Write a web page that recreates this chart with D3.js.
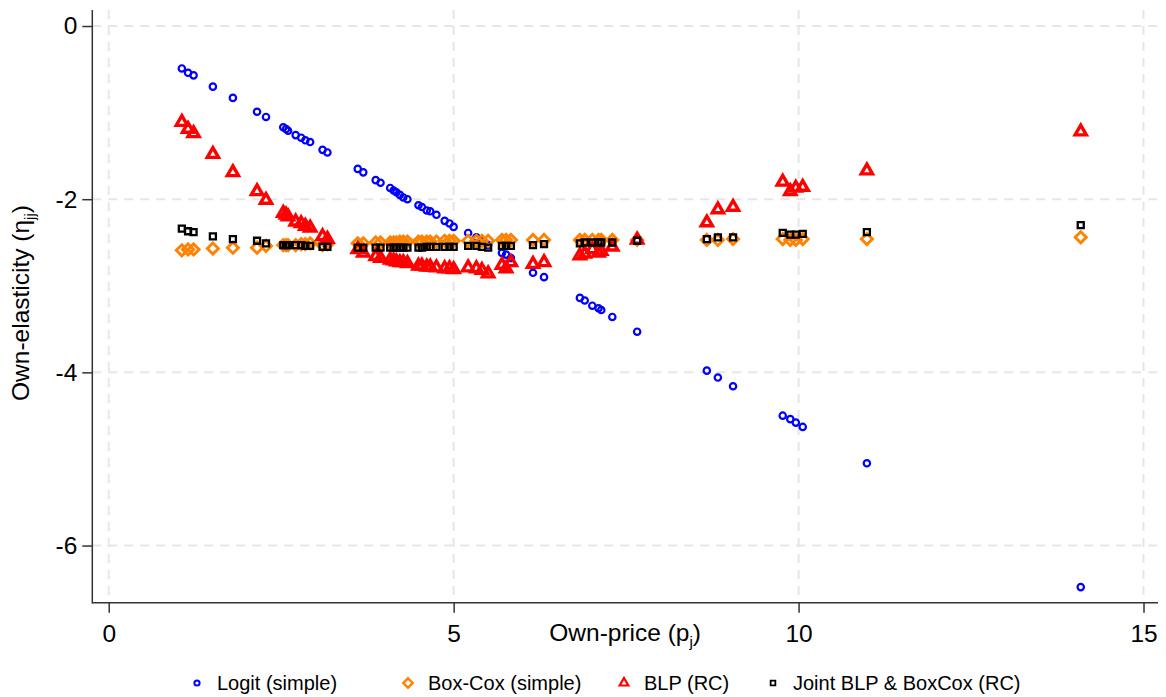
<!DOCTYPE html>
<html>
<head>
<meta charset="utf-8">
<script src="https://d3js.org/d3.v7.min.js"></script>
<style>
  body { margin: 0; background: #fff; }
  svg { display: block; font-family: "Liberation Sans", Arial, sans-serif; }
</style>
</head>
<body>
<svg id="chart" width="1166" height="697"></svg>
<script>
// ── Data: one entry per product ──
const prices = [1.06, 1.15, 1.23, 1.51, 1.80, 2.15, 2.28, 2.53, 2.57, 2.60, 2.71, 2.79, 2.85, 2.92, 3.10, 3.17,
  3.61, 3.69, 3.87, 3.94, 4.08, 4.13, 4.17, 4.22, 4.27, 4.33, 4.49, 4.54, 4.61, 4.66, 4.75, 4.87, 4.94, 5.00,
  5.21, 5.33, 5.41, 5.50, 5.70, 5.76, 5.83, 6.15, 6.31, 6.83, 6.90, 7.01, 7.10, 7.14, 7.30, 7.66,
  8.67, 8.83, 9.05, 9.77, 9.88, 9.96, 10.06, 10.99, 14.09];

const logit = [-0.49, -0.54, -0.57, -0.70, -0.83, -0.99, -1.05, -1.17, -1.19, -1.21, -1.26, -1.29, -1.32, -1.34, -1.43, -1.46,
  -1.65, -1.69, -1.78, -1.81, -1.87, -1.90, -1.92, -1.95, -1.98, -2.00, -2.07, -2.09, -2.13, -2.14, -2.18, -2.25, -2.28, -2.32,
  -2.39, -2.44, -2.48, -2.53, -2.62, -2.64, -2.68, -2.85, -2.90, -3.14, -3.17, -3.23, -3.26, -3.28, -3.36, -3.53,
  -3.98, -4.06, -4.16, -4.50, -4.54, -4.58, -4.63, -5.05, -6.48];

const boxcox = [-2.59, -2.58, -2.58, -2.57, -2.56, -2.56, -2.54, -2.53, -2.53, -2.53, -2.53, -2.52, -2.52, -2.51, -2.53, -2.52,
  -2.51, -2.51, -2.50, -2.50, -2.50, -2.50, -2.50, -2.49, -2.49, -2.49, -2.49, -2.49, -2.49, -2.49, -2.49, -2.48, -2.48, -2.48,
  -2.48, -2.48, -2.48, -2.48, -2.47, -2.47, -2.47, -2.47, -2.47, -2.47, -2.47, -2.47, -2.47, -2.47, -2.47, -2.47,
  -2.47, -2.47, -2.46, -2.46, -2.47, -2.47, -2.46, -2.46, -2.44];

const blp = [-1.11, -1.19, -1.24, -1.48, -1.69, -1.91, -2.01, -2.16, -2.18, -2.20, -2.26, -2.28, -2.31, -2.33, -2.43, -2.46,
  -2.58, -2.62, -2.66, -2.68, -2.70, -2.71, -2.72, -2.73, -2.73, -2.74, -2.77, -2.77, -2.78, -2.78, -2.79, -2.80, -2.80, -2.81,
  -2.79, -2.80, -2.82, -2.86, -2.76, -2.80, -2.73, -2.75, -2.73, -2.65, -2.63, -2.58, -2.62, -2.60, -2.55, -2.47,
  -2.27, -2.12, -2.09, -1.80, -1.91, -1.87, -1.86, -1.67, -1.22];

const joint = [-2.34, -2.37, -2.38, -2.43, -2.46, -2.48, -2.51, -2.53, -2.53, -2.53, -2.53, -2.53, -2.54, -2.54, -2.55, -2.55,
  -2.56, -2.56, -2.56, -2.56, -2.56, -2.56, -2.56, -2.56, -2.56, -2.56, -2.56, -2.56, -2.55, -2.55, -2.55, -2.55, -2.55, -2.55,
  -2.54, -2.54, -2.55, -2.56, -2.54, -2.54, -2.54, -2.53, -2.52, -2.51, -2.50, -2.50, -2.50, -2.50, -2.50, -2.48,
  -2.46, -2.44, -2.44, -2.39, -2.41, -2.41, -2.40, -2.38, -2.30];

const xTicks = [0, 5, 10, 15];
const yTicks = [0, -2, -4, -6];

// ── Series styling (Stata-like hollow markers) ──
const SERIES = [
  { name: 'Logit (simple)', values: logit, color: '#0000ff', shape: 'circle' },
  { name: 'Box-Cox (simple)', values: boxcox, color: '#ff8200', shape: 'diamond' },
  { name: 'BLP (RC)', values: blp, color: '#ff0000', shape: 'triangle' },
  { name: 'Joint BLP & BoxCox (RC)', values: joint, color: '#000000', shape: 'square' },
];

const svg = d3.select('#chart');
const plotL = 92.3, plotR = 1158, plotT = 10, plotB = 602.7;
const FONT = '"Liberation Sans", Arial, sans-serif';

const x = d3.scaleLinear().domain([-0.238, 15.21]).range([plotL, plotR]);
const y = d3.scaleLinear().domain([0.185, -6.66]).range([plotT, plotB]);

// grid
const grid = svg.append('g').attr('stroke', '#e6e6e6').attr('stroke-width', 2).attr('stroke-dasharray', '9,7');
xTicks.forEach(t => grid.append('line').attr('x1', x(t)).attr('x2', x(t)).attr('y1', plotT).attr('y2', plotB));
yTicks.forEach(t => grid.append('line').attr('x1', plotL).attr('x2', plotR).attr('y1', y(t)).attr('y2', y(t)));

// axes
const xAxis = svg.append('g').attr('transform', `translate(0,${plotB})`)
  .call(d3.axisBottom(x).tickValues(xTicks).tickSize(10).tickPadding(10).tickFormat(d3.format('d')));
const yAxis = svg.append('g').attr('transform', `translate(${plotL},0)`)
  .call(d3.axisLeft(y).tickValues(yTicks).tickSize(10).tickPadding(5).tickFormat(d => d === 0 ? '0' : '-' + Math.abs(d)));
[xAxis, yAxis].forEach(a => {
  a.select('.domain').remove();
  a.selectAll('line').attr('stroke', '#333').attr('stroke-width', 1.5);
  a.selectAll('text').attr('fill', '#000').attr('font-size', 24.5).attr('font-family', FONT);
});
xAxis.selectAll('text').attr('dy', null).attr('y', 39);
svg.append('line').attr('x1', plotL).attr('x2', plotL).attr('y1', plotT).attr('y2', plotB + 0.75)
  .attr('stroke', '#333').attr('stroke-width', 1.5);
svg.append('line').attr('x1', plotL).attr('x2', plotR).attr('y1', plotB).attr('y2', plotB)
  .attr('stroke', '#333').attr('stroke-width', 1.5);

// marker drawing
function marker(sel, shape, color) {
  if (shape === 'circle') {
    sel.append('circle').attr('r', 3.2).attr('fill', 'none').attr('stroke', color).attr('stroke-width', 2.2);
  } else if (shape === 'diamond') {
    sel.append('path').attr('d', d3.symbol(d3.symbolSquare, 62)()).attr('transform', 'rotate(45)')
      .attr('fill', 'none').attr('stroke', color).attr('stroke-width', 2.9);
  } else if (shape === 'triangle') {
    sel.append('path').attr('d', d3.symbol(d3.symbolTriangle, 54)())
      .attr('fill', 'none').attr('stroke', color).attr('stroke-width', 3.4);
  } else {
    sel.append('path').attr('d', d3.symbol(d3.symbolSquare, 36)())
      .attr('fill', 'none').attr('stroke', color).attr('stroke-width', 2.3);
  }
}

SERIES.forEach(s => {
  const pts = svg.append('g').selectAll('g').data(prices.map((p, i) => [p, s.values[i]])).enter().append('g')
    .attr('transform', d => `translate(${x(d[0])},${y(d[1])})`);
  marker(pts, s.shape, s.color);
});

// axis titles
svg.append('text').attr('x', (plotL + plotR) / 2).attr('y', 641).attr('text-anchor', 'middle')
  .attr('font-size', 24.5).attr('fill', '#000')
  .call(t => {
    t.append('tspan').text('Own-price (p');
    t.append('tspan').attr('font-size', 15).attr('dy', 6).text('j');
    t.append('tspan').attr('dy', -6).text(')');
  });

svg.append('text').attr('transform', `translate(29,303) rotate(-90)`).attr('text-anchor', 'middle')
  .attr('font-size', 24.5).attr('fill', '#000')
  .call(t => {
    t.append('tspan').text('Own-elasticity (η');
    t.append('tspan').attr('font-size', 15).attr('dy', 6).text('jj');
    t.append('tspan').attr('dy', -6).text(')');
  });

// legend
const legendX = [197, 408, 624, 773];
const legend = svg.append('g').attr('transform', 'translate(0,683)');
SERIES.forEach((s, i) => {
  const g = legend.append('g').attr('transform', `translate(${legendX[i]},0)`);
  const m = g.append('g');
  if (s.shape === 'circle') m.append('circle').attr('r', 2.6).attr('fill', 'none').attr('stroke', s.color).attr('stroke-width', 2);
  else if (s.shape === 'diamond') m.append('path').attr('d', d3.symbol(d3.symbolSquare, 44)()).attr('transform', 'rotate(45)')
    .attr('fill', 'none').attr('stroke', s.color).attr('stroke-width', 2.4);
  else if (s.shape === 'triangle') m.append('path').attr('d', d3.symbol(d3.symbolTriangle, 32)())
    .attr('fill', 'none').attr('stroke', s.color).attr('stroke-width', 2.2);
  else m.append('path').attr('d', d3.symbol(d3.symbolSquare, 22)()).attr('fill', 'none').attr('stroke', s.color).attr('stroke-width', 1.8);
  g.append('text').attr('x', 20).attr('dy', '0.35em').attr('font-size', 20).attr('fill', '#000').text(s.name);
});
</script>
</body>
</html>
